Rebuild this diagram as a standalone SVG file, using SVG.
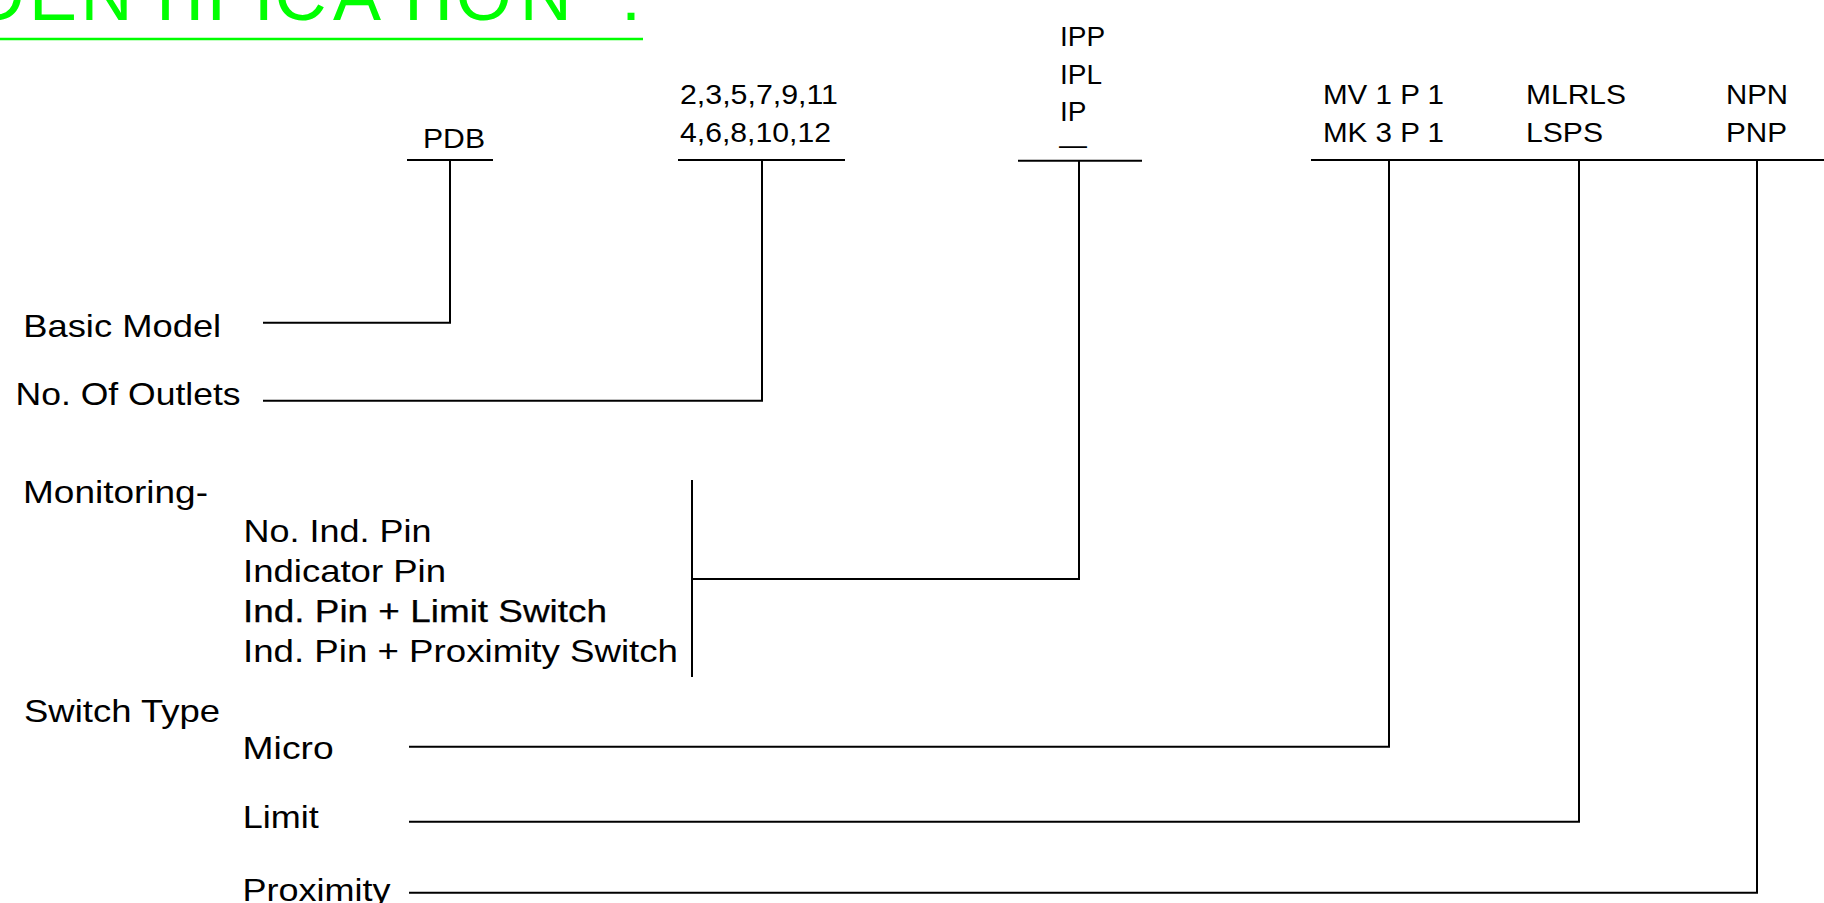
<svg xmlns="http://www.w3.org/2000/svg" width="1824" height="903" viewBox="0 0 1824 903">
<style>
text { font-family: "Liberation Sans", Arial, sans-serif; fill: #000; }
.title { font-size: 72px; fill: #00ff00; }
.top { font-size: 28px; }
.lbl { font-size: 32px; }
.dark { stroke: #000; stroke-width: 0.25; }
.conn path { fill: none; stroke: #000; stroke-width: 2; }
</style>
<rect width="1824" height="903" fill="#fff"/>
<g id="title">
<text class="title" x="-47 -27.5 28.9 80.5 143.5 184.7 207 253.7 274.6 333 391.5 433.7 455.7 519.8 580 621" y="20">IDENTIFICATION :</text>
<line x1="0" y1="39" x2="643" y2="39" stroke="#00ff00" stroke-width="2.5"/>
</g>
<g id="code-pdb"><text class="top" x="423" y="147.5" textLength="62" lengthAdjust="spacingAndGlyphs">PDB</text></g>
<g id="code-outlets">
<text class="top" x="680" y="103.5" textLength="158" lengthAdjust="spacingAndGlyphs">2,3,5,7,9,11</text>
<text class="top" x="680" y="142" textLength="151" lengthAdjust="spacingAndGlyphs">4,6,8,10,12</text>
</g>
<g id="code-monitoring">
<text class="top" x="1060" y="46">IPP</text>
<text class="top" x="1060" y="83.5">IPL</text>
<text class="top" x="1060" y="121">IP</text>
<text class="top" x="1059" y="153.5">—</text>
</g>
<g id="code-switch">
<text class="top" x="1323" y="103.5" textLength="121" lengthAdjust="spacingAndGlyphs">MV 1 P 1</text>
<text class="top" x="1323" y="142" textLength="121" lengthAdjust="spacingAndGlyphs">MK 3 P 1</text>
</g>
<g id="code-limit">
<text class="top" x="1526" y="103.5" textLength="100" lengthAdjust="spacingAndGlyphs">MLRLS</text>
<text class="top" x="1526" y="142" textLength="77" lengthAdjust="spacingAndGlyphs">LSPS</text>
</g>
<g id="code-prox">
<text class="top" x="1726" y="103.5" textLength="62" lengthAdjust="spacingAndGlyphs">NPN</text>
<text class="top" x="1726" y="142" textLength="61" lengthAdjust="spacingAndGlyphs">PNP</text>
</g>
<g id="label-basic"><text class="lbl" x="23.2" y="337" textLength="198" lengthAdjust="spacingAndGlyphs">Basic Model</text></g>
<g id="label-outlets"><text class="lbl" x="15.6" y="405" textLength="225" lengthAdjust="spacingAndGlyphs">No. Of Outlets</text></g>
<g id="label-monitoring">
<text class="lbl" x="23" y="503" textLength="185" lengthAdjust="spacingAndGlyphs">Monitoring-</text>
<text class="lbl" x="243.6" y="542" textLength="188" lengthAdjust="spacingAndGlyphs">No. Ind. Pin</text>
<text class="lbl" x="243" y="582" textLength="203" lengthAdjust="spacingAndGlyphs">Indicator Pin</text>
<text class="lbl dark" x="243" y="622" textLength="364" lengthAdjust="spacingAndGlyphs">Ind. Pin + Limit Switch</text>
<text class="lbl" x="243" y="662" textLength="435" lengthAdjust="spacingAndGlyphs">Ind. Pin + Proximity Switch</text>
</g>
<g id="label-switch">
<text class="lbl" x="24" y="722" textLength="196" lengthAdjust="spacingAndGlyphs">Switch Type</text>
<text class="lbl" x="242.6" y="759" textLength="91" lengthAdjust="spacingAndGlyphs">Micro</text>
<text class="lbl" x="242.7" y="828" textLength="76" lengthAdjust="spacingAndGlyphs">Limit</text>
<text class="lbl" x="242.5" y="901" textLength="148" lengthAdjust="spacingAndGlyphs">Proximity</text>
</g>
<g id="connectors" class="conn">
<path d="M407 160 H493"/>
<path d="M450 160 V322.7 H263"/>
<path d="M678 160 H845"/>
<path d="M762 160 V400.7 H263"/>
<path d="M1018 160.7 H1142"/>
<path d="M1079 160.7 V579 H692"/>
<path d="M692 480 V677"/>
<path d="M1311 160 H1824"/>
<path d="M1389 160 V746.7 H409"/>
<path d="M1579 160 V821.7 H409"/>
<path d="M1757 160 V892.7 H409"/>
</g>
</svg>
